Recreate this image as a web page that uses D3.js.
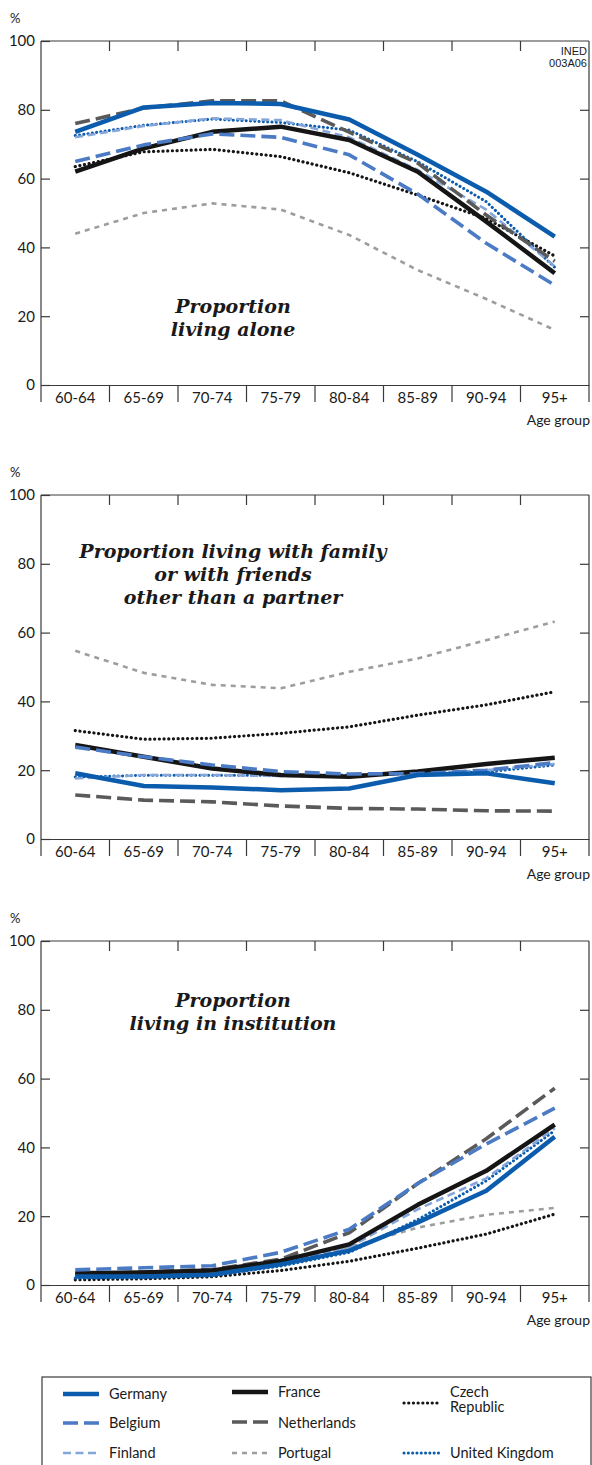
<!DOCTYPE html>
<html>
<head>
<meta charset="utf-8">
<script src="https://cdn.jsdelivr.net/npm/d3@7"></script>
<style>
  body { margin: 0; background: #fff; }
  svg { display: block; }
  text { font-family: Lato, "Open Sans", sans-serif; fill: #1a1a1a; }
  .title { font-family: "DejaVu Serif", "Liberation Serif", serif; font-style: italic; font-weight: bold; fill: #1a1a1a; }
  .code { font-family: "Liberation Sans Narrow", "Liberation Sans", sans-serif; font-stretch: condensed; }
</style>
</head>
<body>
<svg id="chart" width="592" height="1465"></svg>
<script>
// ---- data -------------------------------------------------------------
const ageGroups = ["60-64", "65-69", "70-74", "75-79", "80-84", "85-89", "90-94", "95+"];
const countries = ["Germany", "France", "Czech Republic", "Belgium", "Netherlands", "Finland", "Portugal", "United Kingdom"];
const yTicks = [0, 20, 40, 60, 80, 100];

// percentages per country (same order as `countries`), one value per age group
const livingAlone = [
  [73.6, 80.7, 82.0, 81.7, 77.2, 66.9, 56.2, 43.1], // Germany
  [62.0, 68.8, 73.6, 75.1, 71.2, 62.0, 47.5, 32.5], // France
  [63.5, 67.8, 68.5, 66.4, 61.7, 55.2, 48.4, 37.5], // Czech Republic
  [65.0, 69.8, 73.0, 72.0, 66.9, 55.5, 41.2, 29.0], // Belgium
  [76.0, 80.5, 82.6, 82.6, 73.5, 64.5, 49.4, 36.0], // Netherlands
  [72.0, 75.3, 77.5, 77.0, 72.0, 62.5, 51.0, 34.5], // Finland
  [44.0, 50.0, 52.8, 51.0, 43.6, 33.4, 25.0, 16.0], // Portugal
  [72.5, 75.5, 77.3, 76.3, 74.1, 64.9, 53.3, 34.2]  // United Kingdom
];
const livingWithFamily = [
  [19.1, 15.4, 15.0, 14.2, 14.7, 18.6, 19.1, 16.2],
  [27.3, 23.9, 20.5, 18.6, 18.1, 19.6, 21.8, 23.6],
  [31.5, 29.0, 29.3, 30.7, 32.6, 36.0, 39.0, 42.8],
  [26.7, 23.9, 21.5, 19.6, 18.9, 19.0, 20.0, 22.2],
  [12.8, 11.3, 10.8, 9.6, 8.9, 8.7, 8.2, 8.1],
  [17.6, 18.6, 18.6, 18.3, 18.5, 19.0, 20.0, 21.8],
  [54.7, 48.3, 44.8, 43.8, 48.6, 52.5, 57.8, 63.2],
  [18.0, 18.5, 18.5, 18.5, 18.6, 19.0, 19.5, 21.5]
];
const livingInInstitution = [
  [2.5, 2.5, 3.0, 6.0, 10.0, 18.2, 27.4, 43.1],
  [3.4, 3.6, 4.2, 7.0, 11.8, 23.3, 33.2, 46.6],
  [1.5, 1.8, 2.4, 4.2, 6.9, 10.7, 14.8, 20.6],
  [4.4, 5.0, 5.6, 9.5, 16.2, 29.5, 41.0, 51.4],
  [3.2, 3.8, 4.5, 7.5, 15.2, 29.5, 42.5, 57.2],
  [2.5, 2.8, 3.5, 6.5, 11.0, 22.0, 31.0, 45.6],
  [3.0, 3.2, 4.0, 6.5, 11.0, 16.7, 20.4, 22.4],
  [2.0, 2.2, 2.8, 5.5, 9.5, 19.0, 30.3, 44.9]
];

// ---- line styles --------------------------------------------------------
const style = {
  "Germany":        { color: "#0b5cad", width: 4.5, dash: null },
  "France":         { color: "#151515", width: 4.5, dash: null },
  "Czech Republic": { color: "#151515", width: 3.2, dash: "0.1,4.6", cap: "round" },
  "Belgium":        { color: "#4a7bc4", width: 3.6, dash: "15,6" },
  "Netherlands":    { color: "#5a5a5a", width: 3.6, dash: "15,6" },
  "Finland":        { color: "#84a6da", width: 2.6, dash: "8,4.5" },
  "Portugal":       { color: "#9d9d9d", width: 2.6, dash: "5,5" },
  "United Kingdom": { color: "#0b5cad", width: 3.0, dash: "0.1,4.2", cap: "round" }
};
// back-to-front drawing order
const drawOrder = ["Portugal", "Czech Republic", "United Kingdom", "Finland", "Netherlands", "France", "Belgium", "Germany"];

const svg = d3.select("#chart");
const left = 41, right = 589, plotH = 344;
const frame = "#3a3a3a";

const x = d3.scaleBand().domain(ageGroups).range([left, right]);
const cx = d => x(d) + x.bandwidth() / 2;

function panel(top, values, titleLines, titleY, withCode) {
  const bottom = top + plotH;
  const y = d3.scaleLinear().domain([0, 100]).range([bottom, top]);
  const g = svg.append("g");

  // frame: top and right edges
  g.append("line").attr("x1", left).attr("x2", right).attr("y1", top).attr("y2", top)
    .attr("stroke", frame).attr("stroke-width", 1.2);
  g.append("line").attr("x1", right).attr("x2", right).attr("y1", top).attr("y2", bottom + 17)
    .attr("stroke", frame).attr("stroke-width", 1.2);

  // left axis with inward ticks
  const ax = g.append("g").attr("transform", `translate(${left},0)`)
    .call(d3.axisLeft(y).tickValues(yTicks).tickSize(-9).tickSizeOuter(0).tickPadding(6));
  ax.select(".domain").remove();
  ax.selectAll("line").attr("stroke", frame).attr("stroke-width", 1.2);
  ax.selectAll("text").style("font-size", "15px").style("font-family", "Lato, sans-serif").attr("fill", "#1a1a1a");
  g.append("line").attr("x1", left).attr("x2", left).attr("y1", top).attr("y2", bottom + 17)
    .attr("stroke", frame).attr("stroke-width", 1.2);

  // right axis ticks (no labels)
  const ar = g.append("g").attr("transform", `translate(${right},0)`)
    .call(d3.axisRight(y).tickValues(yTicks.slice(1, -1)).tickSize(-9).tickSizeOuter(0).tickFormat(""));
  ar.select(".domain").remove();
  ar.selectAll("line").attr("stroke", frame).attr("stroke-width", 1.2);

  // bottom axis: category labels centred in bands, separators between them
  const ab = g.append("g").attr("transform", `translate(0,${bottom})`)
    .call(d3.axisBottom(x).tickSize(0).tickPadding(7));
  ab.select(".domain").attr("stroke", frame).attr("stroke-width", 1.2);
  ab.selectAll("text").style("font-size", "15px").style("font-family", "Lato, sans-serif").attr("fill", "#1a1a1a");
  ageGroups.slice(1).forEach(a => {
    g.append("line").attr("x1", x(a)).attr("x2", x(a)).attr("y1", bottom).attr("y2", bottom + 17)
      .attr("stroke", frame).attr("stroke-width", 1.2);
    g.append("line").attr("x1", x(a)).attr("x2", x(a)).attr("y1", top).attr("y2", top + 10)
      .attr("stroke", frame).attr("stroke-width", 1.2);
  });

  g.append("text").attr("x", 10).attr("y", top - 18).style("font-size", "13px").text("%");
  g.append("text").attr("x", 590).attr("y", bottom + 40).attr("text-anchor", "end")
    .style("font-size", "14px").text("Age group");

  if (withCode) {
    g.append("text").attr("class", "code").attr("x", 587).attr("y", top + 14).attr("text-anchor", "end")
      .style("font-size", "11px").text("INED");
    g.append("text").attr("class", "code").attr("x", 587).attr("y", top + 26).attr("text-anchor", "end")
      .style("font-size", "11px").text("003A06");
  }

  // title
  titleLines.forEach((t, i) => {
    g.append("text").attr("class", "title").attr("x", 233).attr("y", titleY + i * 23)
      .attr("text-anchor", "middle").style("font-size", "19px").text(t);
  });

  // series
  const line = d3.line().x((d, i) => cx(ageGroups[i])).y(d => y(d));
  drawOrder.forEach(c => {
    const s = style[c];
    const vals = values[countries.indexOf(c)];
    g.append("path").datum(vals).attr("d", line)
      .attr("fill", "none").attr("stroke", s.color).attr("stroke-width", s.width)
      .attr("stroke-dasharray", s.dash).attr("stroke-linecap", s.cap || "butt")
      .attr("stroke-linejoin", "round");
  });
}

panel(41, livingAlone, ["Proportion", "living alone"], 313, true);
panel(495, livingWithFamily, ["Proportion living with family", "or with friends", "other than a partner"], 558, false);
panel(941, livingInInstitution, ["Proportion", "living in institution"], 1007, false);

// ---- legend ----------------------------------------------------------------
const legend = svg.append("g");
legend.append("rect").attr("x", 42).attr("y", 1377).attr("width", 549).attr("height", 100)
  .attr("fill", "none").attr("stroke", frame).attr("stroke-width", 1.2);

const legendItems = [
  { c: "Germany", x: 63, y: 1394, lines: ["Germany"], ty: 1399 },
  { c: "Belgium", x: 63, y: 1423, lines: ["Belgium"], ty: 1428 },
  { c: "Finland", x: 63, y: 1453, lines: ["Finland"], ty: 1458 },
  { c: "France", x: 232, y: 1392, lines: ["France"], ty: 1397 },
  { c: "Netherlands", x: 232, y: 1422, lines: ["Netherlands"], ty: 1428 },
  { c: "Portugal", x: 232, y: 1453, lines: ["Portugal"], ty: 1458 },
  { c: "Czech Republic", x: 404, y: 1403, lines: ["Czech", "Republic"], ty: 1397 },
  { c: "United Kingdom", x: 404, y: 1453, lines: ["United Kingdom"], ty: 1458 }
];
legendItems.forEach(it => {
  const s = style[it.c];
  legend.append("line").attr("x1", it.x).attr("x2", it.x + 36).attr("y1", it.y).attr("y2", it.y)
    .attr("stroke", s.color).attr("stroke-width", s.width)
    .attr("stroke-dasharray", s.dash).attr("stroke-linecap", s.cap || "butt");
  it.lines.forEach((t, i) => {
    legend.append("text").attr("x", it.x + 46).attr("y", it.ty + i * 15)
      .style("font-size", "14.5px").text(t);
  });
});
</script>
</body>
</html>
